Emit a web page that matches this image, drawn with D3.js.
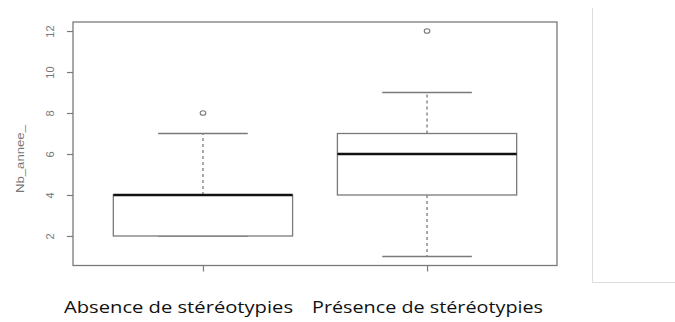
<!DOCTYPE html>
<html><head><meta charset="utf-8">
<script src="https://cdn.jsdelivr.net/npm/d3@7"></script>
<style>html,body{margin:0;padding:0;background:#fff;}</style>
</head><body>
<script>
const categories = ["Absence de stéréotypies", "Présence de stéréotypies"];
const whiskerLow = [2, 1];
const q1 = [2, 4];
const median = [4, 6];
const q3 = [4, 7];
const whiskerHigh = [7, 9];
const outliers = [[8], [12]];
const yTicks = [2, 4, 6, 8, 10, 12];
const yLabel = "Nb_annee_";

const W = 675, H = 322;
const svg = d3.select("body").append("svg").attr("width", W).attr("height", H);

const x = d3.scaleLinear().domain([0.42, 2.58]).range([73, 557]);
const y = d3.scaleLinear().domain([0.56, 12.44]).range([265.5, 22]);
const boxW = x(1.4) - x(1);
const capW = x(1.2) - x(1);
const lineCol = "#7a7a7a";

// plot frame
svg.append("rect").attr("x", x(0.42)).attr("y", y(12.44))
  .attr("width", x(2.58) - x(0.42)).attr("height", y(0.56) - y(12.44))
  .attr("fill", "none").attr("stroke", lineCol).attr("stroke-width", 1.3);

// y axis
const yAxis = d3.axisLeft(y).tickValues(yTicks).tickSize(6);
const gy = svg.append("g").attr("transform", `translate(${x(0.42)},0)`).call(yAxis);
gy.select(".domain").remove();
gy.selectAll(".tick line").attr("stroke", lineCol).attr("stroke-width", 1.2);
gy.selectAll(".tick text")
  .attr("font-family", "Liberation Sans, Arial, sans-serif").attr("font-size", 11)
  .attr("fill", "#777")
  .attr("x", -23).attr("dy", "0.35em").attr("text-anchor", "middle")
  .attr("transform", `rotate(-90, -23, 0)`);

// x axis tick marks
const xAxis = d3.axisBottom(x).tickValues([1, 2]).tickSize(6).tickFormat("");
const gx = svg.append("g").attr("transform", `translate(0,${y(0.56)})`).call(xAxis);
gx.select(".domain").remove();
gx.selectAll(".tick line").attr("stroke", lineCol).attr("stroke-width", 1.2);

// y label
svg.append("text").attr("transform", `translate(24,159) rotate(-90)`)
  .attr("text-anchor", "middle").attr("font-family", "Liberation Sans, Arial, sans-serif")
  .attr("font-size", 11).attr("fill", "#777")
  .attr("textLength", 68).attr("lengthAdjust", "spacingAndGlyphs").text(yLabel);

// boxes
categories.forEach((c, i) => {
  const cx = x(i + 1);
  const g = svg.append("g");
  if (whiskerHigh[i] > q3[i]) {
    g.append("line").attr("x1", cx).attr("x2", cx).attr("y1", y(q3[i])).attr("y2", y(whiskerHigh[i]))
      .attr("stroke", lineCol).attr("stroke-width", 1.3).attr("stroke-dasharray", "3,3");
  }
  if (whiskerLow[i] < q1[i]) {
    g.append("line").attr("x1", cx).attr("x2", cx).attr("y1", y(q1[i])).attr("y2", y(whiskerLow[i]))
      .attr("stroke", lineCol).attr("stroke-width", 1.3).attr("stroke-dasharray", "3,3");
  }
  [whiskerHigh[i], whiskerLow[i]].forEach(v => {
    g.append("line").attr("x1", cx - capW).attr("x2", cx + capW).attr("y1", y(v)).attr("y2", y(v))
      .attr("stroke", lineCol).attr("stroke-width", 1.3);
  });
  g.append("rect").attr("x", cx - boxW).attr("width", 2 * boxW)
    .attr("y", y(q3[i])).attr("height", y(q1[i]) - y(q3[i]))
    .attr("fill", "#fff").attr("stroke", lineCol).attr("stroke-width", 1.3);
  g.append("line").attr("x1", cx - boxW).attr("x2", cx + boxW).attr("y1", y(median[i])).attr("y2", y(median[i]))
    .attr("stroke", "#111").attr("stroke-width", 2.6);
  outliers[i].forEach(v => {
    g.append("ellipse").attr("cx", cx).attr("cy", y(v)).attr("rx", 2.8).attr("ry", 2.3)
      .attr("fill", "none").attr("stroke", lineCol).attr("stroke-width", 1.1);
  });
});

// category labels
const labelX = [64, 312];
const labelW = [229, 231];
categories.forEach((c, i) => {
  svg.append("text").attr("x", labelX[i]).attr("y", 313)
    .attr("font-family", "Open Sans, Liberation Sans, sans-serif").attr("font-size", 17)
    .attr("fill", "#111").attr("textLength", labelW[i]).attr("lengthAdjust", "spacingAndGlyphs")
    .text(c);
});

// right cell border
svg.append("line").attr("x1", 592.5).attr("x2", 592.5).attr("y1", 8).attr("y2", 282)
  .attr("stroke", "#dcdcdc").attr("stroke-width", 1);
svg.append("line").attr("x1", 592).attr("x2", 675).attr("y1", 282.5).attr("y2", 282.5)
  .attr("stroke", "#dcdcdc").attr("stroke-width", 1);
</script>
</body></html>
